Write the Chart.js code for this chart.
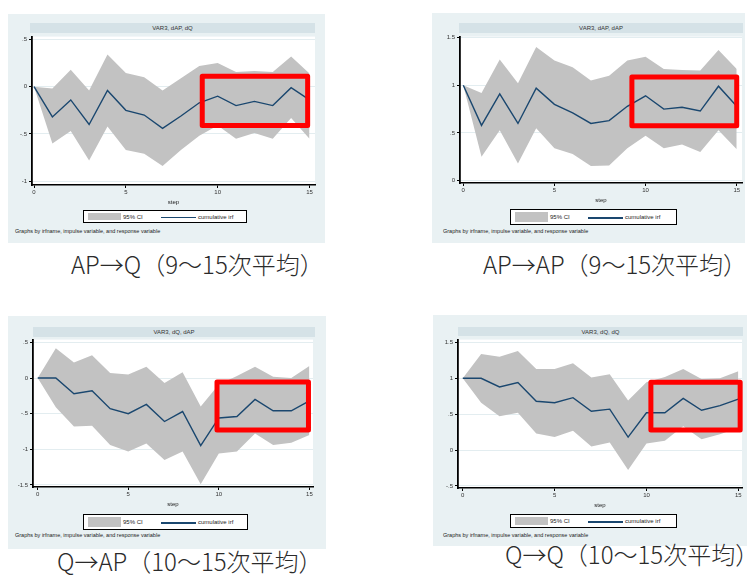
<!DOCTYPE html>
<html>
<head>
<meta charset="utf-8">
<script src="https://cdn.jsdelivr.net/npm/chart.js@4.4.1/dist/chart.umd.min.js"></script>
<style>
  body { margin: 0; width: 747px; height: 575px; background: #fff; position: relative; overflow: hidden;
         font-family: "Liberation Sans", Arial, sans-serif; }
  .panel { position: absolute; background: #e9f1f3; }
  .strip { position: absolute; background: #d5e2e7; font-size: 6px; line-height: 10px; text-align: center; color: #333; }
  canvas { position: absolute; }
  .legend { position: absolute; background: #fff; border: 1px solid #000; box-sizing: border-box; }
  .legend span { position: absolute; }
  .legend .txt { font-size: 6px; line-height: 6px; color: #222; white-space: nowrap; }
  .note { position: absolute; font-size: 5.5px; line-height: 6px; color: #222; white-space: nowrap; }
  .caption { position: absolute; font-family: "Noto Sans CJK JP", sans-serif; font-size: 24px; line-height: 26px;
             font-weight: 300; color: #2a2a2a; white-space: nowrap; }
</style>
</head>
<body>
<script>
// ─── Data ──────────────────────────────────────────────────────
const steps  = [0, 1, 2, 3, 4, 5, 6, 7, 8, 9, 10, 11, 12, 13, 14, 15];
const xTicks = [0, 5, 10, 15];
const legendLabels = ["95% CI", "cumulative irf"];
const noteText = "Graphs by irfname, impulse variable, and response variable";

// AP -> Q
const irfApQ   = [0, -0.32, -0.14, -0.40, -0.04, -0.25, -0.30, -0.44, -0.31, -0.17, -0.10, -0.20, -0.155, -0.20, -0.01, -0.14];
const upperApQ = [0, -0.02, 0.18, -0.04, 0.34, 0.145, 0.10, -0.04, 0.09, 0.22, 0.25, 0.155, 0.165, 0.155, 0.32, 0.14];
const lowerApQ = [0, -0.60, -0.47, -0.78, -0.42, -0.67, -0.71, -0.84, -0.67, -0.52, -0.41, -0.55, -0.49, -0.55, -0.33, -0.55];
const ticksApQ = [0.5, 0, -0.5, -1];

// AP -> AP
const irfApAp   = [1, 0.58, 0.91, 0.60, 0.97, 0.80, 0.71, 0.60, 0.63, 0.78, 0.89, 0.75, 0.77, 0.73, 0.99, 0.78];
const upperApAp = [1, 0.92, 1.27, 1.02, 1.40, 1.26, 1.19, 1.05, 1.10, 1.26, 1.30, 1.17, 1.16, 1.155, 1.37, 1.17];
const lowerApAp = [1, 0.25, 0.53, 0.18, 0.55, 0.34, 0.28, 0.155, 0.16, 0.34, 0.47, 0.34, 0.38, 0.30, 0.53, 0.33];
const ticksApAp = [1.5, 1, 0.5, 0];

// Q -> AP
const irfQAp   = [0, 0, -0.22, -0.18, -0.43, -0.50, -0.37, -0.61, -0.47, -0.95, -0.56, -0.54, -0.30, -0.46, -0.46, -0.32];
const upperQAp = [0, 0.42, 0.22, 0.32, 0.07, 0.05, 0.16, -0.07, 0.08, -0.40, -0.09, 0.03, 0.16, 0.02, 0, 0.17];
const lowerQAp = [0, -0.41, -0.68, -0.67, -0.94, -1.03, -0.92, -1.15, -1.03, -1.49, -1.06, -1.03, -0.78, -0.94, -0.91, -0.80];
const ticksQAp = [0.5, 0, -0.5, -1, -1.5];

// Q -> Q
const irfQQ   = [1, 1, 0.88, 0.94, 0.68, 0.66, 0.73, 0.54, 0.57, 0.18, 0.52, 0.52, 0.72, 0.555, 0.62, 0.71];
const upperQQ = [1, 1.34, 1.30, 1.38, 1.13, 1.13, 1.21, 1.01, 1.055, 0.69, 0.945, 1.02, 1.13, 0.99, 1, 1.10];
const lowerQQ = [1, 0.66, 0.47, 0.52, 0.23, 0.18, 0.27, 0.05, 0.105, -0.28, 0.09, 0.13, 0.33, 0.15, 0.22, 0.31];
const ticksQQ = [1.5, 1, 0.5, 0, -0.5];

// ─── Panel layout ──────────────────────────────────────────────
const panels = [
  { title: "VAR3, dAP, dQ", caption: "AP→Q（9～15次平均）", irf: irfApQ, upper: upperApQ, lower: lowerApQ, yTicks: ticksApQ,
    x: [-0.11, 15.3], y: [-1.04, 0.53], hi: [9.16, 14.9, -0.41, 0.11],
    bg: [8, 14, 325, 243], plot: [32, 34, 315, 185], strip: [30, 23, 315, 33], legend: [83, 210, 247, 223],
    note: [15, 228], cap: [71, 251] },
  { title: "VAR3, dAP, dAP", caption: "AP→AP（9～15次平均）", irf: irfApAp, upper: upperApAp, lower: lowerApAp, yTicks: ticksApAp,
    x: [-0.18, 15.29], y: [-0.024, 1.51], hi: [9.25, 15.0, 0.576, 1.086],
    bg: [432, 13, 745, 243], plot: [460, 34, 742, 183], strip: [459, 23, 743, 33], legend: [510, 209, 677, 225],
    note: [443, 228], cap: [483, 251] },
  { title: "VAR3, dQ, dAP", caption: "Q→AP（10～15次平均）", irf: irfQAp, upper: upperQAp, lower: lowerQAp, yTicks: ticksQAp,
    x: [-0.26, 15.2], y: [-1.53, 0.54], hi: [9.9, 14.95, -0.73, -0.055],
    bg: [8, 316, 326, 549], plot: [33, 337, 313, 487], strip: [33, 327, 315, 337], legend: [83, 514, 248, 530],
    note: [15, 532], cap: [57, 548] },
  { title: "VAR3, dQ, dQ", caption: "Q→Q（10～15次平均）", irf: irfQQ, upper: upperQQ, lower: lowerQQ, yTicks: ticksQQ,
    x: [-0.26, 15.2], y: [-0.53, 1.54], hi: [10.24, 15.1, 0.28, 0.945],
    bg: [433, 315, 747, 546], plot: [458, 337, 742, 488], strip: [458, 327, 743, 336], legend: [510, 514, 677, 528],
    note: [443, 532], cap: [505, 541] },
];

const AXIS_W = 20, AXIS_H = 24, PAD_T = 3, PAD_R = 6;
const NAVY = "#1a476f", CI_GRAY = "#c2c2c2";

function fmtTick(v) {
  return String(v).replace(/^(-?)0\./, "$1.");
}

function addBox(cls, box, text) {
  const el = document.createElement("div");
  el.className = cls;
  el.style.left = box[0] + "px";
  el.style.top = box[1] + "px";
  if (box.length > 2) {
    el.style.width = (box[2] - box[0]) + "px";
    el.style.height = (box[3] - box[1]) + "px";
  }
  if (text) el.textContent = text;
  document.body.appendChild(el);
  return el;
}

function buildLegend(box) {
  const lg = addBox("legend", box);
  const h = box[3] - box[1];
  lg.innerHTML = `
    <span style="left:4px;top:2px;width:33px;height:${h - 6}px;background:${CI_GRAY}"></span>
    <span class="txt" style="left:39px;top:${(h - 8) / 2}px">${legendLabels[0]}</span>
    <span style="left:77px;top:${h / 2 - 1}px;width:35px;height:1.5px;background:${NAVY}"></span>
    <span class="txt" style="left:114px;top:${(h - 8) / 2}px">${legendLabels[1]}</span>`;
}

const plotBg = {
  id: "plotBg",
  beforeDraw(chart) {
    const a = chart.chartArea, ctx = chart.ctx;
    ctx.save();
    ctx.fillStyle = "#fff";
    ctx.fillRect(a.left, a.top, a.right - a.left, a.bottom - a.top);
    ctx.restore();
  }
};

// red box around the averaged steps
const highlight = {
  id: "highlight",
  afterDraw(chart, args, opts) {
    const [x0, x1, y0, y1] = opts.range;
    const xs = chart.scales.x, ys = chart.scales.y, ctx = chart.ctx;
    const l = xs.getPixelForValue(x0), r = xs.getPixelForValue(x1);
    const t = ys.getPixelForValue(y1), b = ys.getPixelForValue(y0);
    ctx.save();
    ctx.strokeStyle = "#ff0000";
    ctx.lineWidth = 5;
    ctx.lineJoin = "round";
    ctx.strokeRect(l, t, r - l, b - t);
    ctx.restore();
  }
};

function renderPanel(p) {
  addBox("panel", p.bg);
  addBox("strip", p.strip, p.title);
  buildLegend(p.legend);
  addBox("note", p.note, noteText);
  addBox("caption", p.cap, p.caption);

  const [pl, pt, pr, pb] = p.plot;
  const canvas = document.createElement("canvas");
  const w = (pr - pl) + AXIS_W + PAD_R;
  const h = (pb - pt) + PAD_T + AXIS_H;
  canvas.width = w; canvas.height = h;
  canvas.style.left = (pl - AXIS_W) + "px";
  canvas.style.top = (pt - PAD_T) + "px";
  canvas.style.width = w + "px"; canvas.style.height = h + "px";
  document.body.appendChild(canvas);

  const pts = arr => steps.map((s, i) => ({ x: s, y: arr[i] }));

  new Chart(canvas, {
    type: "line",
    data: {
      datasets: [
        { label: "cumulative irf", data: pts(p.irf), borderColor: NAVY, borderWidth: 1.4,
          pointRadius: 0, tension: 0, fill: false, order: 0 },
        { label: "lower", data: pts(p.lower), borderWidth: 0, borderColor: "transparent",
          pointRadius: 0, tension: 0, fill: false, order: 2 },
        { label: "95% CI", data: pts(p.upper), borderWidth: 0, borderColor: "transparent",
          backgroundColor: CI_GRAY, pointRadius: 0, tension: 0, fill: "-1", order: 1 },
      ]
    },
    options: {
      responsive: false,
      animation: false,
      devicePixelRatio: 1,
      layout: { padding: { left: 0, top: PAD_T, right: PAD_R, bottom: 0 } },
      plugins: {
        legend: { display: false },
        tooltip: { enabled: false },
        highlight: { range: p.hi },
      },
      scales: {
        x: {
          type: "linear", min: p.x[0], max: p.x[1],
          afterBuildTicks: s => { s.ticks = xTicks.map(v => ({ value: v })); },
          afterFit: s => { s.height = AXIS_H; },
          grid: { drawOnChartArea: false, color: "#000", tickLength: 3 },
          border: { color: "#000", width: 1.5 },
          ticks: { color: "#333", font: { size: 6, family: "Liberation Sans" }, padding: 1, maxRotation: 0,
                   callback: v => fmtTick(v) },
          title: { display: true, text: "step", color: "#222", font: { size: 6, family: "Liberation Sans" },
                   padding: { top: 0, bottom: 3 } },
        },
        y: {
          type: "linear", min: p.y[0], max: p.y[1],
          afterBuildTicks: s => { s.ticks = p.yTicks.map(v => ({ value: v })); },
          afterFit: s => { s.width = AXIS_W; },
          grid: { color: "#e3edf0", tickColor: "#000", tickLength: 3, lineWidth: 1 },
          border: { color: "#000", width: 1.8 },
          ticks: { color: "#333", font: { size: 6, family: "Liberation Sans" }, padding: 2,
                   callback: v => fmtTick(v) },
        }
      }
    },
    plugins: [plotBg, highlight]
  });
}

panels.forEach(renderPanel);
</script>
</body>
</html>
